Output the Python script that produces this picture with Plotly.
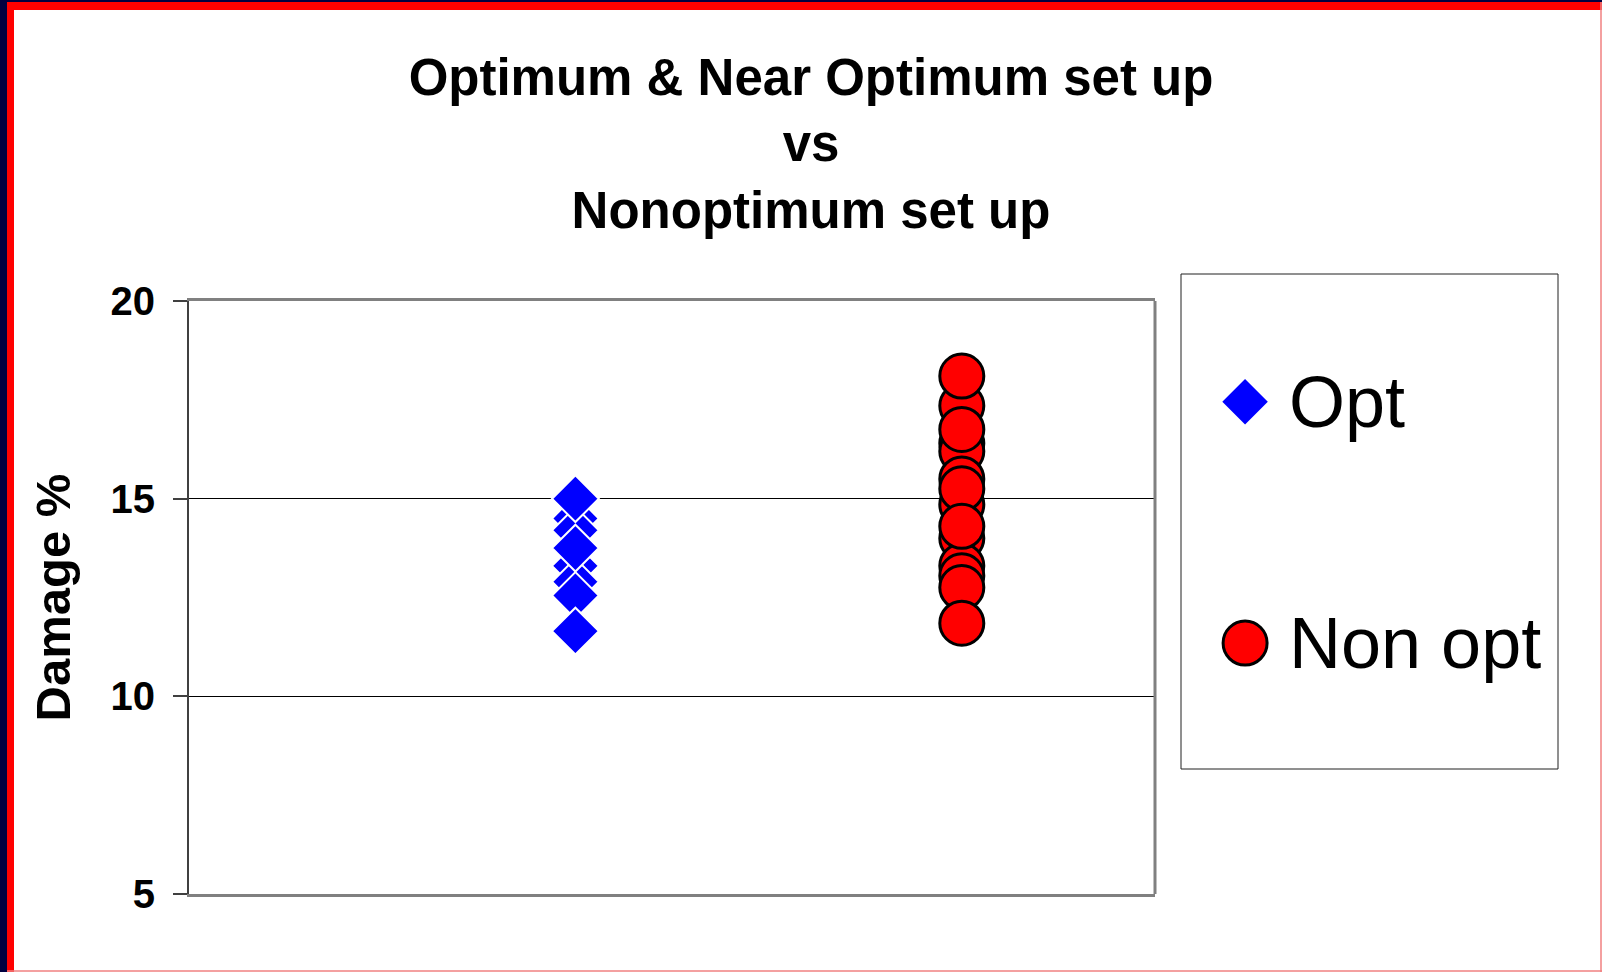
import plotly.graph_objects as go

# ---- data ----
series_names = ["Opt", "Non opt"]
opt_values = [14.5, 14.2, 13.3, 12.9, 15.0, 13.75, 12.55, 11.65]
nonopt_values = [17.35, 16.4, 16.2, 15.5, 14.85, 14.0, 13.3, 13.05,
                 18.1, 16.75, 15.25, 14.3, 12.75, 11.85]
group_pos = [1, 2]
y_ticks = [5, 10, 15, 20]

W, H = 1602, 972
L, R, T, B = 189, 1560, 274, 894  # paper region in px

def px(x):
    return (x - L) / (R - L)

def py(y):
    return (B - y) / (B - T)

FONT = "Liberation Sans, Arial, sans-serif"

fig = go.Figure()

fig.add_trace(go.Scatter(
    x=[group_pos[0]] * len(opt_values), y=opt_values, mode="markers",
    name=series_names[0], showlegend=False,
    marker=dict(symbol="diamond", size=36, color="#0000ff",
                line=dict(color="white", width=2)),
    xaxis="x", yaxis="y"))
fig.add_trace(go.Scatter(
    x=[group_pos[1]] * len(nonopt_values), y=nonopt_values, mode="markers",
    name=series_names[1], showlegend=False,
    marker=dict(symbol="circle", size=44, color="#ff0000",
                line=dict(color="black", width=3)),
    xaxis="x", yaxis="y"))

# custom legend drawn on hidden axes (large symbols like the original)
fig.add_trace(go.Scatter(
    x=[0], y=[series_names[0]], mode="markers", showlegend=False, hoverinfo="skip",
    marker=dict(symbol="diamond", size=35, color="#0000ff"),
    xaxis="x2", yaxis="y2"))
fig.add_trace(go.Scatter(
    x=[0], y=[series_names[1]], mode="markers", showlegend=False, hoverinfo="skip",
    marker=dict(symbol="circle", size=44, color="#ff0000",
                line=dict(color="black", width=3)),
    xaxis="x2", yaxis="y2"))

for name in series_names:
    fig.add_annotation(x=0, y=name, xref="x2", yref="y2", text=name,
                       showarrow=False, xanchor="left", yanchor="middle",
                       xshift=42, yshift=0,
                       font=dict(family=FONT, size=72, color="black"))

plot_right = px(1155)
plot_top = py(301)

shapes = []
# outer frame
shapes.append(dict(type="rect", xref="paper", yref="paper", x0=px(0), x1=px(7), y0=py(972), y1=py(0),
                   fillcolor="#000040", line=dict(width=0), layer="below"))
shapes.append(dict(type="rect", xref="paper", yref="paper", x0=px(0), x1=px(W), y0=py(2), y1=py(0),
                   fillcolor="#000040", line=dict(width=0), layer="below"))
shapes.append(dict(type="rect", xref="paper", yref="paper", x0=px(7), x1=px(14), y0=py(972), y1=py(2),
                   fillcolor="#ff0000", line=dict(width=0), layer="below"))
shapes.append(dict(type="rect", xref="paper", yref="paper", x0=px(7), x1=px(W), y0=py(10), y1=py(2),
                   fillcolor="#ff0000", line=dict(width=0), layer="below"))
shapes.append(dict(type="line", xref="paper", yref="paper", x0=px(1601), x1=px(1601), y0=py(972), y1=py(2),
                   line=dict(color="#f08080", width=1.5)))
shapes.append(dict(type="line", xref="paper", yref="paper", x0=px(7), x1=px(W), y0=py(971), y1=py(971),
                   line=dict(color="#f08080", width=1.5)))
# plot area right border
shapes.append(dict(type="line", xref="paper", yref="paper", x0=plot_right, x1=plot_right, y0=0, y1=plot_top,
                   line=dict(color="#808080", width=3)))
# legend box
shapes.append(dict(type="rect", xref="paper", yref="paper", x0=px(1181), x1=px(1558), y0=py(769), y1=py(274),
                   line=dict(color="#202020", width=1), fillcolor="rgba(0,0,0,0)"))

fig.update_layout(
    width=W, height=H,
    margin=dict(l=L, r=W - R, t=T, b=H - B, pad=0),
    paper_bgcolor="white", plot_bgcolor="white",
    shapes=shapes,
    title=dict(text="Optimum & Near Optimum set up<br>vs<br>Nonoptimum set up",
               x=811 / W, xanchor="center", xref="container",
               y=1 - 95 / H, yanchor="top", yref="container",
               font=dict(family=FONT, size=51, color="black", weight="bold")),
    xaxis=dict(domain=[0, plot_right], range=[0, 2.5], showticklabels=False, ticks="",
               showgrid=False, zeroline=False, showline=True, linecolor="#808080",
               linewidth=3, mirror=True),
    yaxis=dict(domain=[0, plot_top], range=[5, 20], tickvals=y_ticks,
               showgrid=True, gridcolor="black", gridwidth=1, zeroline=False,
               showline=True, linecolor="#404040", linewidth=2,
               ticks="outside", ticklen=14, tickwidth=2, tickcolor="#404040",
               ticklabelstandoff=10,
               tickfont=dict(family=FONT, size=40, color="black", weight="bold"),
               title=dict(text="Damage %", standoff=24,
                          font=dict(family=FONT, size=49, color="black", weight="bold"))),
    xaxis2=dict(domain=[px(1181), px(1558)], range=[-0.17, 0.83], visible=False, anchor="y2"),
    yaxis2=dict(domain=[py(769), py(274)], type="category", categoryorder="array",
                categoryarray=series_names, range=[1.522, -0.529], visible=False, anchor="x2"),
    showlegend=False,
)

fig.write_html("out.html", config={"displayModeBar": False},
               post_script="document.body.style.margin='0';document.body.style.overflow='hidden';")
